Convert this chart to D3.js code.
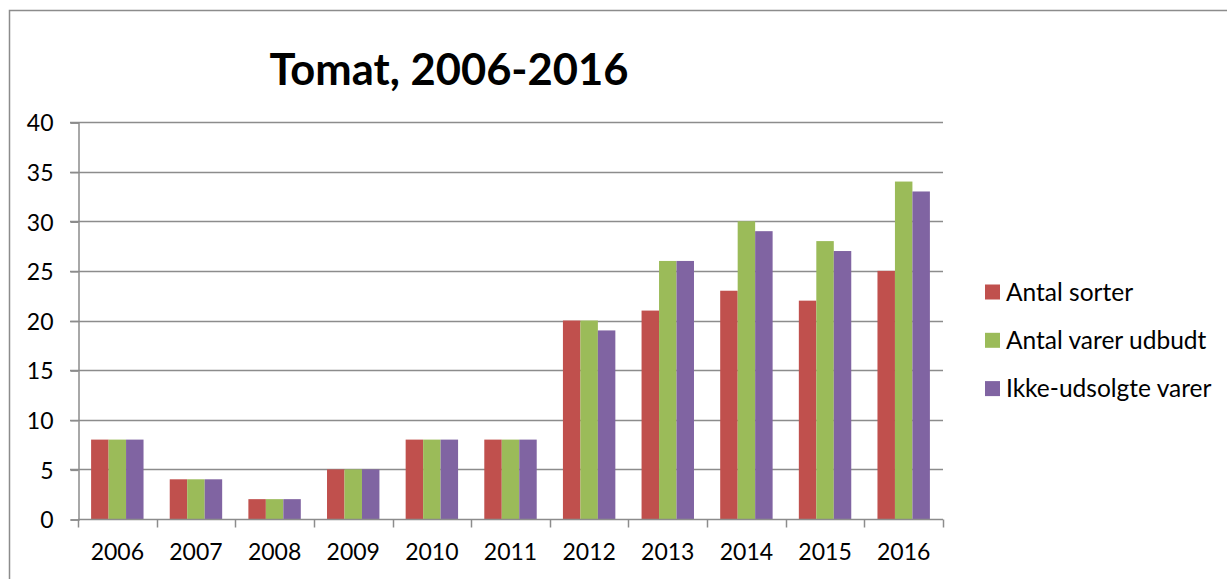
<!DOCTYPE html>
<html>
<head>
<meta charset="utf-8">
<script src="https://cdnjs.cloudflare.com/ajax/libs/d3/7.8.5/d3.min.js"></script>
<style>
  html, body { margin: 0; padding: 0; background: #fff; }
  svg { display: block; }
  text { font-family: Lato, "Open Sans", sans-serif; fill: #000; }
</style>
</head>
<body>
<svg id="chart" width="1227" height="579"></svg>
<script>
const years = ["2006","2007","2008","2009","2010","2011","2012","2013","2014","2015","2016"];
const seriesNames = ["Antal sorter", "Antal varer udbudt", "Ikke-udsolgte varer"];
const antalSorter = [8, 4, 2, 5, 8, 8, 20, 21, 23, 22, 25];
const antalVarerUdbudt = [8, 4, 2, 5, 8, 8, 20, 26, 30, 28, 34];
const ikkeUdsolgteVarer = [8, 4, 2, 5, 8, 8, 19, 26, 29, 27, 33];
const yTicks = [0, 5, 10, 15, 20, 25, 30, 35, 40];
const colors = ["#C0504D", "#9BBB59", "#8064A2"];
const title = "Tomat, 2006-2016";

const seriesValues = [antalSorter, antalVarerUdbudt, ikkeUdsolgteVarer];

const svg = d3.select("#chart");
const plotLeft = 78, plotRight = 943, plotTop = 122, plotBottom = 519;

// chart border (top and left visible)
svg.append("path")
  .attr("d", "M9.5,579 L9.5,10.5 L1227,10.5")
  .attr("fill", "none").attr("stroke", "#8c8c8c").attr("stroke-width", 1.5);

const x0 = d3.scaleBand().domain(years).range([plotLeft, plotRight]).paddingInner(0).paddingOuter(0);
const bw = x0.bandwidth() / 4.5;
const x1 = d3.scaleBand().domain(seriesNames).range([bw * 0.75, bw * 0.75 + 3 * bw]);
const y = d3.scaleLinear().domain([0, 40]).range([plotBottom, plotTop]);

// gridlines
svg.append("g").selectAll("line").data(yTicks.filter(d => d > 0)).join("line")
  .attr("x1", plotLeft - 8).attr("x2", plotRight)
  .attr("y1", d => Math.round(y(d)) + 0.5).attr("y2", d => Math.round(y(d)) + 0.5)
  .attr("stroke", "#8c8c8c").attr("stroke-width", 1.5);

// bars
const g = svg.append("g");
seriesNames.forEach((s, si) => {
  g.append("g").selectAll("rect").data(years).join("rect")
    .attr("x", (d) => x0(d) + x1(s))
    .attr("width", x1.bandwidth())
    .attr("y", (d, i) => y(seriesValues[si][i]))
    .attr("height", (d, i) => plotBottom - y(seriesValues[si][i]))
    .attr("fill", colors[si]);
});

// y axis
const yAxis = d3.axisLeft(y).tickValues(yTicks).tickSize(8).tickPadding(17);
const ya = svg.append("g").attr("transform", `translate(${plotLeft + 0.5},0.5)`).call(yAxis);
ya.select(".domain").attr("stroke", "#8c8c8c").attr("stroke-width", 1.5);
ya.selectAll(".tick line").attr("stroke", "#8c8c8c").attr("stroke-width", 1.5);
ya.selectAll("text").style("font-family", "Lato, sans-serif").style("font-size", "23px").attr("fill", "#000").attr("dy", "0.36em");

// x axis
const xAxis = d3.axisBottom(x0).tickSize(0).tickPadding(23);
const xa = svg.append("g").attr("transform", `translate(0,${plotBottom + 0.5})`).call(xAxis);
xa.select(".domain").attr("d", `M${plotLeft},0H${plotRight}`).attr("stroke", "#8c8c8c").attr("stroke-width", 1.5);
xa.selectAll("text").style("font-family", "Lato, sans-serif").style("font-size", "23px").attr("fill", "#000").attr("dy", "0.75em");
// category boundary ticks
const boundaries = years.map(d => x0(d)).concat([plotRight]);
xa.append("g").selectAll("line").data(boundaries).join("line")
  .attr("x1", d => Math.round(d) + 0.5).attr("x2", d => Math.round(d) + 0.5)
  .attr("y1", 0).attr("y2", 8)
  .attr("stroke", "#8c8c8c").attr("stroke-width", 1.5);

// title
svg.append("text").attr("x", 449).attr("y", 85).attr("text-anchor", "middle")
  .style("font-weight", "bold").style("font-size", "43.5px").text(title);

// legend
const lg = svg.append("g").attr("transform", "translate(985,0)");
seriesNames.forEach((s, i) => {
  const cy = 292 + i * 48.3;
  lg.append("rect").attr("x", 0).attr("y", cy - 7.5).attr("width", 15).attr("height", 15).attr("fill", colors[i]);
  lg.append("text").attr("x", 21).attr("y", cy).attr("dy", "0.36em").style("font-size", "24.5px").text(s);
});
</script>
</body>
</html>
